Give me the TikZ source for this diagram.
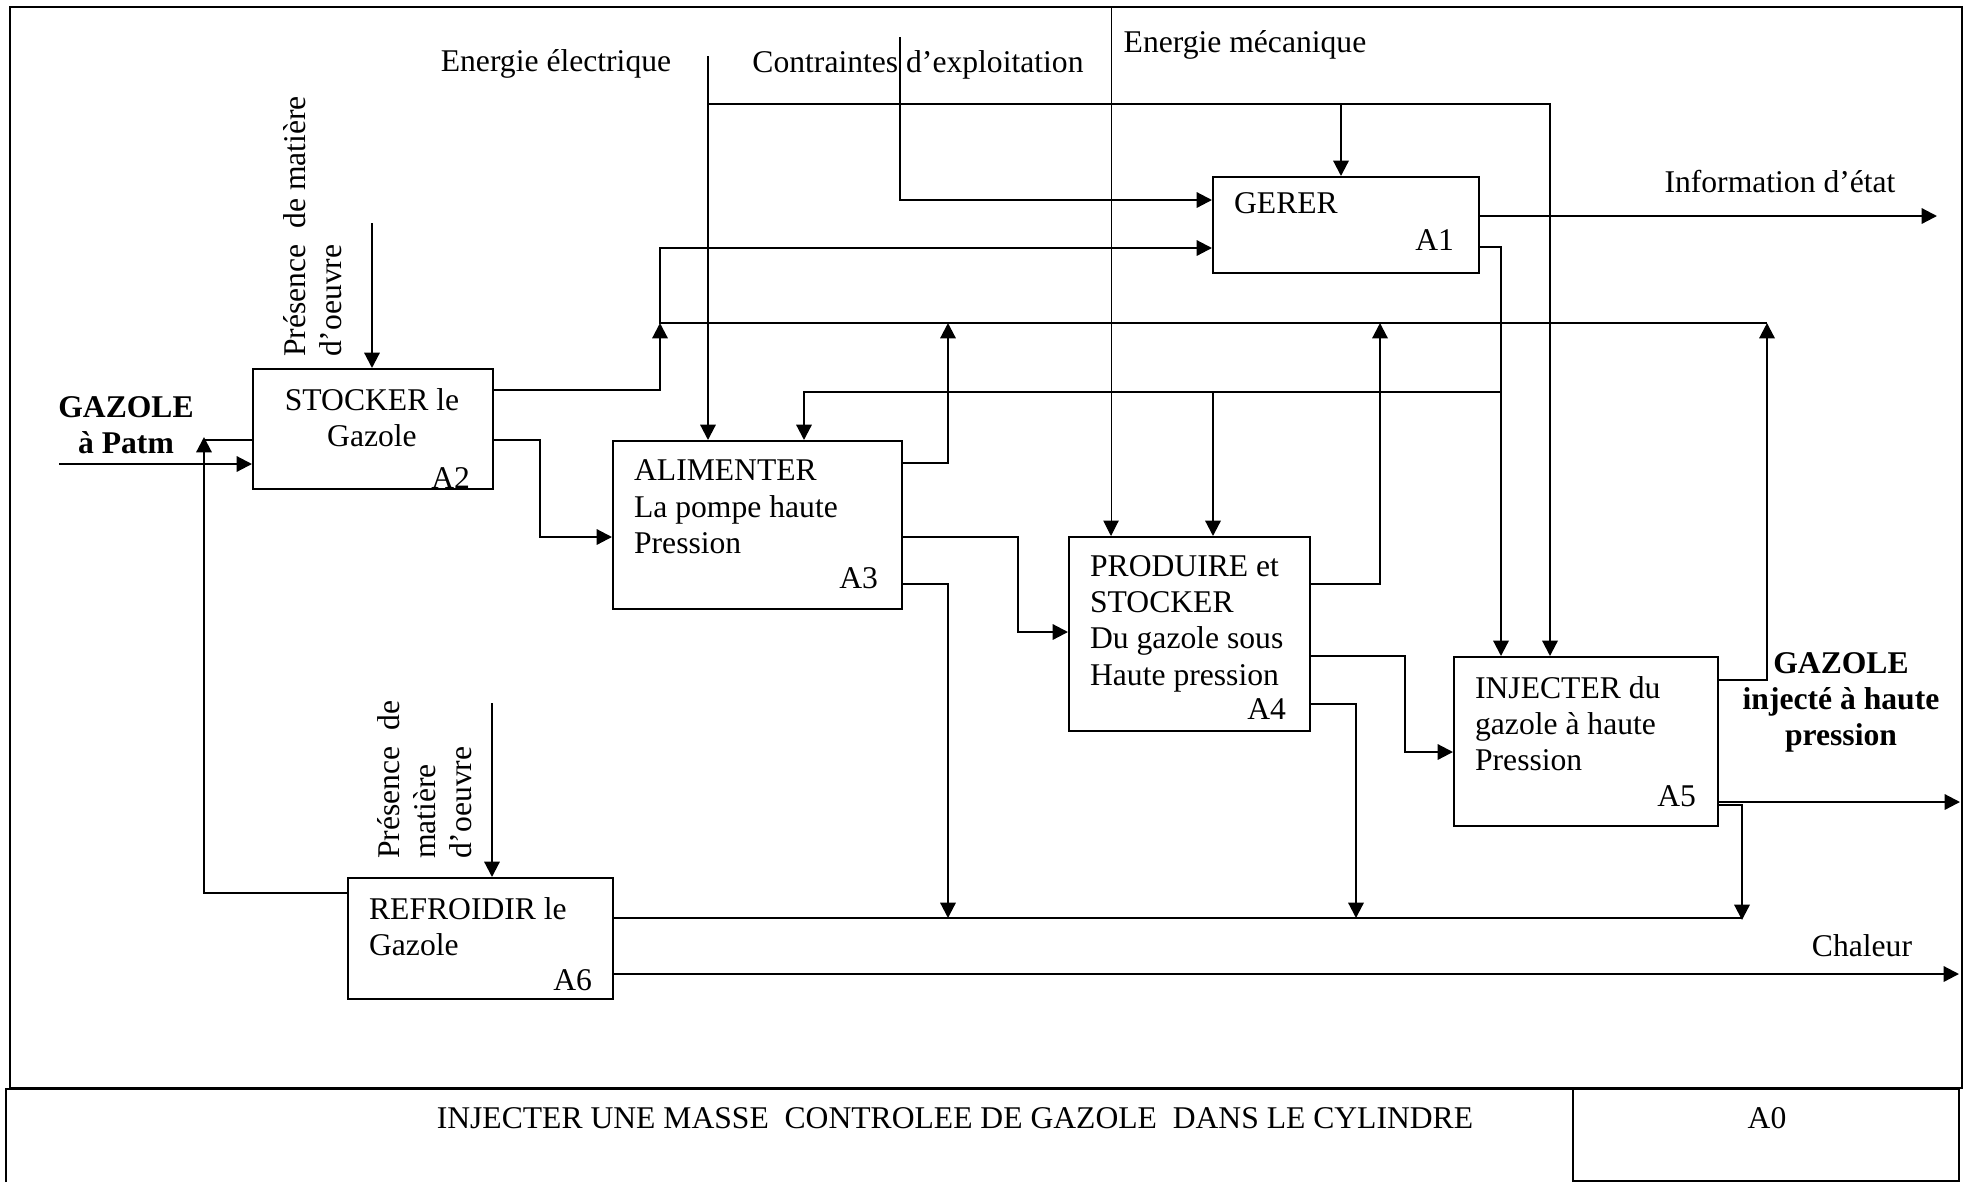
\documentclass[tikz,border=0pt]{standalone}
\usepackage{fontspec}
\setmainfont{Liberation Serif}
\usetikzlibrary{arrows.meta}

\newcommand{\sadtfont}{\fontsize{14.4}{16.6}\selectfont}

\begin{document}
\begin{tikzpicture}[x=0.016cm,y=-0.016cm,line width=1pt,font=\sadtfont,
     >={Triangle[length=7pt,width=7pt]},
     fbox/.style={draw,anchor=north west,inner sep=0pt},
     btext/.style={inner sep=0pt,align=left,anchor=north west},
     lbl/.style={inner sep=0pt,anchor=base},
     num/.style={inner sep=0pt,anchor=base east},
     bold/.style={font=\sadtfont\bfseries}]

     \useasboundingbox (0,0) rectangle (1966,1182);

     % cadre et cartouche
     \draw (10,7) rectangle (1962,1088);
     \draw[line width=0.8pt] (6,1182) -- (6,1089) -- (1573,1089);
     \draw[line width=0.8pt] (1573,1089) rectangle (1959,1181);
     \node[lbl] (titre) at (955,1128) {INJECTER UNE MASSE\ \ CONTROLEE DE GAZOLE\ \ DANS LE CYLINDRE};
     \node[lbl] (a0) at (1767,1128) {A0};

     % boites
     \node[fbox,minimum width=3.84cm,minimum height=1.92cm]   (a2) at (252,368)  {};
     \node[fbox,minimum width=4.624cm,minimum height=2.688cm] (a3) at (612,440)  {};
     \node[fbox,minimum width=4.256cm,minimum height=1.536cm] (a1) at (1212,176) {};
     \node[fbox,minimum width=3.856cm,minimum height=3.104cm] (a4) at (1068,536) {};
     \node[fbox,minimum width=4.224cm,minimum height=2.704cm] (a5) at (1453,656) {};
     \node[fbox,minimum width=4.24cm,minimum height=1.936cm]  (a6) at (347,877)  {};

     \node[btext,align=center,anchor=north] (t2) at (372,387) {STOCKER le\\Gazole};
     \node[btext] (t3) at (633,459)  {ALIMENTER\\La pompe haute\\Pression};
     \node[lbl,anchor=base west] (t1) at (1233,213) {GERER};
     \node[btext] (t4) at (1089,554) {PRODUIRE et\\STOCKER\\Du gazole sous\\Haute pression};
     \node[btext] (t5) at (1474,675) {INJECTER du\\gazole à haute\\Pression};
     \node[btext] (t6) at (368,896)  {REFROIDIR le\\Gazole};

     \node[num] (n2) at (471,488)  {A2};
     \node[num] (n3) at (879,588)  {A3};
     \node[num] (n1) at (1455,250) {A1};
     \node[num] (n4) at (1287,719) {A4};
     \node[num] (n5) at (1697,806) {A5};
     \node[num] (n6) at (593,990)  {A6};

     % textes exterieurs
     \node[lbl] (eelec) at (556,71)  {Energie électrique};
     \node[lbl] (contr) at (918,72)  {Contraintes d’exploitation};
     \node[lbl] (emeca) at (1245,52) {Energie mécanique};
     \node[lbl] (info)  at (1780,192) {Information d’état};
     \node[lbl] (chal)  at (1862,956) {Chaleur};
     \node[btext,bold,align=center,anchor=north] (gin)  at (126,395)  {GAZOLE\\à Patm};
     \node[btext,bold,align=center,anchor=north] (gout) at (1841,651) {GAZOLE\\injecté à haute\\pression};
     \node[btext,rotate=90] (pres2) at (282,358) {Présence\ \ de matière\\d’oeuvre};
     \node[btext,rotate=90] (pres6) at (376,860) {Présence\ \ de\\matière\\d’oeuvre};

     % extremites libres
     \coordinate (gin0)  at (59,464);
     \coordinate (m2)    at (372,223);
     \coordinate (m6)    at (492,703);
     \coordinate (ee)    at (708,56);
     \coordinate (ce)    at (900,37);
     \coordinate (me)    at (1111,7);
     \coordinate (infoend) at (1937,216);
     \coordinate (outend)  at (1960,802);
     \coordinate (chalend) at (1959,974);

     % entrees et controles
     \draw[->] (gin0) -- (a2.west |- gin0);
     \draw[->] (m2) -- (a2.north -| m2);
     \draw[->] (m6) -- (a6.north -| m6);
     \draw[->] (ee) -- (a3.north -| ee);
     \draw[->] (ee |- 0,104) -| (a5.north -| 1550,0);
     \draw[->] (1341,104) -- (a1.north -| 1341,0);
     \draw[->] (ce) |- (a1.west |- 0,200);
     \draw[->,line width=0.45pt] (me) -- (a4.north -| me);

     % GERER
     \draw[->] (a1.east |- 0,216) -- (infoend);
     \draw[->] (a1.east |- 0,247) -| (a5.north -| 1501,0);
     \draw[->] (1501,392) -| (a3.north -| 804,0);
     \draw[->] (1213,392) -- (a4.north -| 1213,0);
     \draw[->] (1767,323) -- (660,323) |- (a1.west |- 0,248);

     % STOCKER
     \draw[->] (a2.east |- 0,390) -| (660,323);
     \draw[->] (a2.east |- 0,440) -| (540,537) -- (a3.west |- 0,537);
     \draw (a2.west |- 0,440) -- (204,440);

     % ALIMENTER
     \draw[->] (a3.east |- 0,463) -| (948,323);
     \draw[->] (a3.east |- 0,537) -| (1018,632) -- (a4.west |- 0,632);
     \draw[->] (a3.east |- 0,584) -| (948,918);

     % PRODUIRE
     \draw[->] (a4.east |- 0,584) -| (1380,323);
     \draw[->] (a4.east |- 0,656) -| (1405,752) -- (a5.west |- 0,752);
     \draw[->] (a4.east |- 0,704) -| (1356,918);

     % INJECTER
     \draw[->] (a5.east |- 0,680) -| (1767,323);
     \draw[->] (a5.east |- 0,802) -- (outend);
     \draw[->] (a5.east |- 0,805) -| (1742,920);

     % REFROIDIR
     \draw (a6.east |- 0,918) -- (1742,918);
     \draw[->] (a6.east |- 0,974) -- (chalend);
     \draw[->] (a6.west |- 0,893) -| (204,437);

\end{tikzpicture}
\end{document}
